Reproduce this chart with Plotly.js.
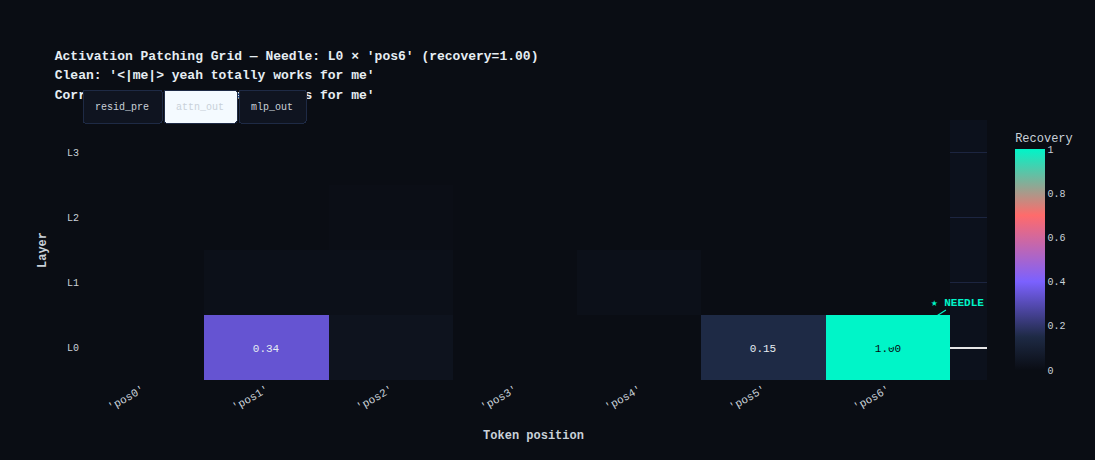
<!DOCTYPE html>
<html>
<head>
<meta charset="utf-8">
<script src="https://cdn.plot.ly/plotly-3.0.1.min.js"></script>
<style>html,body{margin:0;padding:0;background:#0a0d14;}#chart{width:1095px;height:460px;}</style>
</head>
<body>
<div id="chart"></div>
<script>
// ---- data ----
const positions = ["'pos0'", "'pos1'", "'pos2'", "'pos3'", "'pos4'", "'pos5'", "'pos6'"];
const layerIdx = [0, 1, 2, 3];
const layerLabels = ["L0", "L1", "L2", "L3"];
const recL0 = [0.00, 0.34, 0.03, 0.00, 0.00, 0.15, 1.00];
const recL1 = [0.00, 0.015, 0.015, 0.00, 0.015, 0.00, 0.00];
const recL2 = [0.00, 0.00, 0.006, 0.00, 0.00, 0.00, 0.00];
const recL3 = [0.00, 0.00, 0.00, 0.00, 0.00, 0.00, 0.00];
const sites = ["resid_pre", "attn_out", "mlp_out"];
const activeSite = 1;
const cleanText = "'<|me|> yeah totally works for me'";
const corruptText = "'<|you|> totally works for me'";
const needleLabel = "★ NEEDLE";

const z = [recL0, recL1, recL2, recL3];
const txt = z.map(r => r.map(v => v >= 0.1 ? (v > 0.8 ? '<span style="color:#05070c">' + v.toFixed(2) + '</span>' : v.toFixed(2)) : ""));

const FONT = "'Courier New', 'Liberation Mono', monospace";
const TXT = "#c9d1d9";
const esc = s => s.replace(/</g, "&lt;").replace(/>/g, "&gt;");
const line = s => '<span style="font-size:13px"><b>' + s + '</b></span>';

const trace = {
  type: "heatmap",
  x: positions,
  y: layerIdx,
  z: z,
  text: txt,
  texttemplate: "%{text}",
  textfont: {family: FONT, size: 11, color: "#e6edf3"},
  zmin: 0, zmax: 1,
  colorscale: [[0, "#0a0d14"], [0.15, "#1e2a45"], [0.4, "#7b61ff"], [0.7, "#ff6b6b"], [1, "#00f5c8"]],
  colorbar: {
    title: {text: "Recovery", font: {family: FONT, size: 12, color: TXT}},
    tickfont: {family: FONT, size: 10, color: TXT},
    tickvals: [0, 0.2, 0.4, 0.6, 0.8, 1],
    ticktext: ["0", "0.2", "0.4", "0.6", "0.8", "1"],
    thickness: 30, outlinewidth: 0
  },
  hoverongaps: false
};

const layout = {
  width: 1095, height: 460,
  paper_bgcolor: "#0a0d14",
  plot_bgcolor: "#0c111c",
  font: {family: FONT, color: TXT, size: 11},
  margin: {l: 80, r: 108, t: 120, b: 80},
  title: {
    text: line("Activation Patching Grid — Needle: L0 × 'pos6' (recovery=1.00)") + "<br>" +
          line("Clean: " + esc(cleanText)) + "<br>" +
          line("Corrupted: " + esc(corruptText)),
    x: 0.05, xanchor: "left", y: 0.87, yanchor: "top",
    font: {family: FONT, size: 15, color: "#e6edf3"}
  },
  xaxis: {
    title: {text: "<b>Token position</b>", font: {family: FONT, size: 12, color: TXT}, standoff: 17},
    tickangle: -30,
    ticks: "", ticklen: 0,
    tickfont: {family: FONT, size: 11, color: TXT},
    range: [-0.5, 6.8],
    showgrid: false, zeroline: false
  },
  yaxis: {
    title: {text: "<b>Layer</b>", font: {family: FONT, size: 12, color: TXT}},
    tickvals: layerIdx, ticktext: layerLabels,
    ticks: "",
    tickfont: {family: FONT, size: 10, color: TXT},
    range: [-0.5, 3.5],
    gridcolor: "#1c2540",
    zeroline: true, zerolinecolor: "#e6e6e6", zerolinewidth: 2
  },
  annotations: [{
    x: positions[6], y: 0, xref: "x", yref: "y",
    text: "<b>" + needleLabel + "</b>", showarrow: true,
    ax: 70, ay: -45, arrowcolor: "#00f5c8", arrowwidth: 1.2, arrowhead: 2,
    font: {family: FONT, size: 11, color: "#00f5c8"}
  }],
  updatemenus: [{
    type: "buttons", direction: "right", showactive: true, active: activeSite,
    x: 0, xanchor: "left", y: 1.12, yanchor: "top",
    pad: {l: 2, t: 0, r: 0, b: 0},
    bgcolor: "#0f1420", bordercolor: "#1e2a45", borderwidth: 1,
    activecolor: "#f0f4ff",
    font: {family: FONT, size: 10, color: TXT},
    buttons: sites.map(s => ({label: s, method: "skip", args: []}))
  }]
};

Plotly.newPlot("chart", [trace], layout, {displayModeBar: false});
</script>
</body>
</html>
